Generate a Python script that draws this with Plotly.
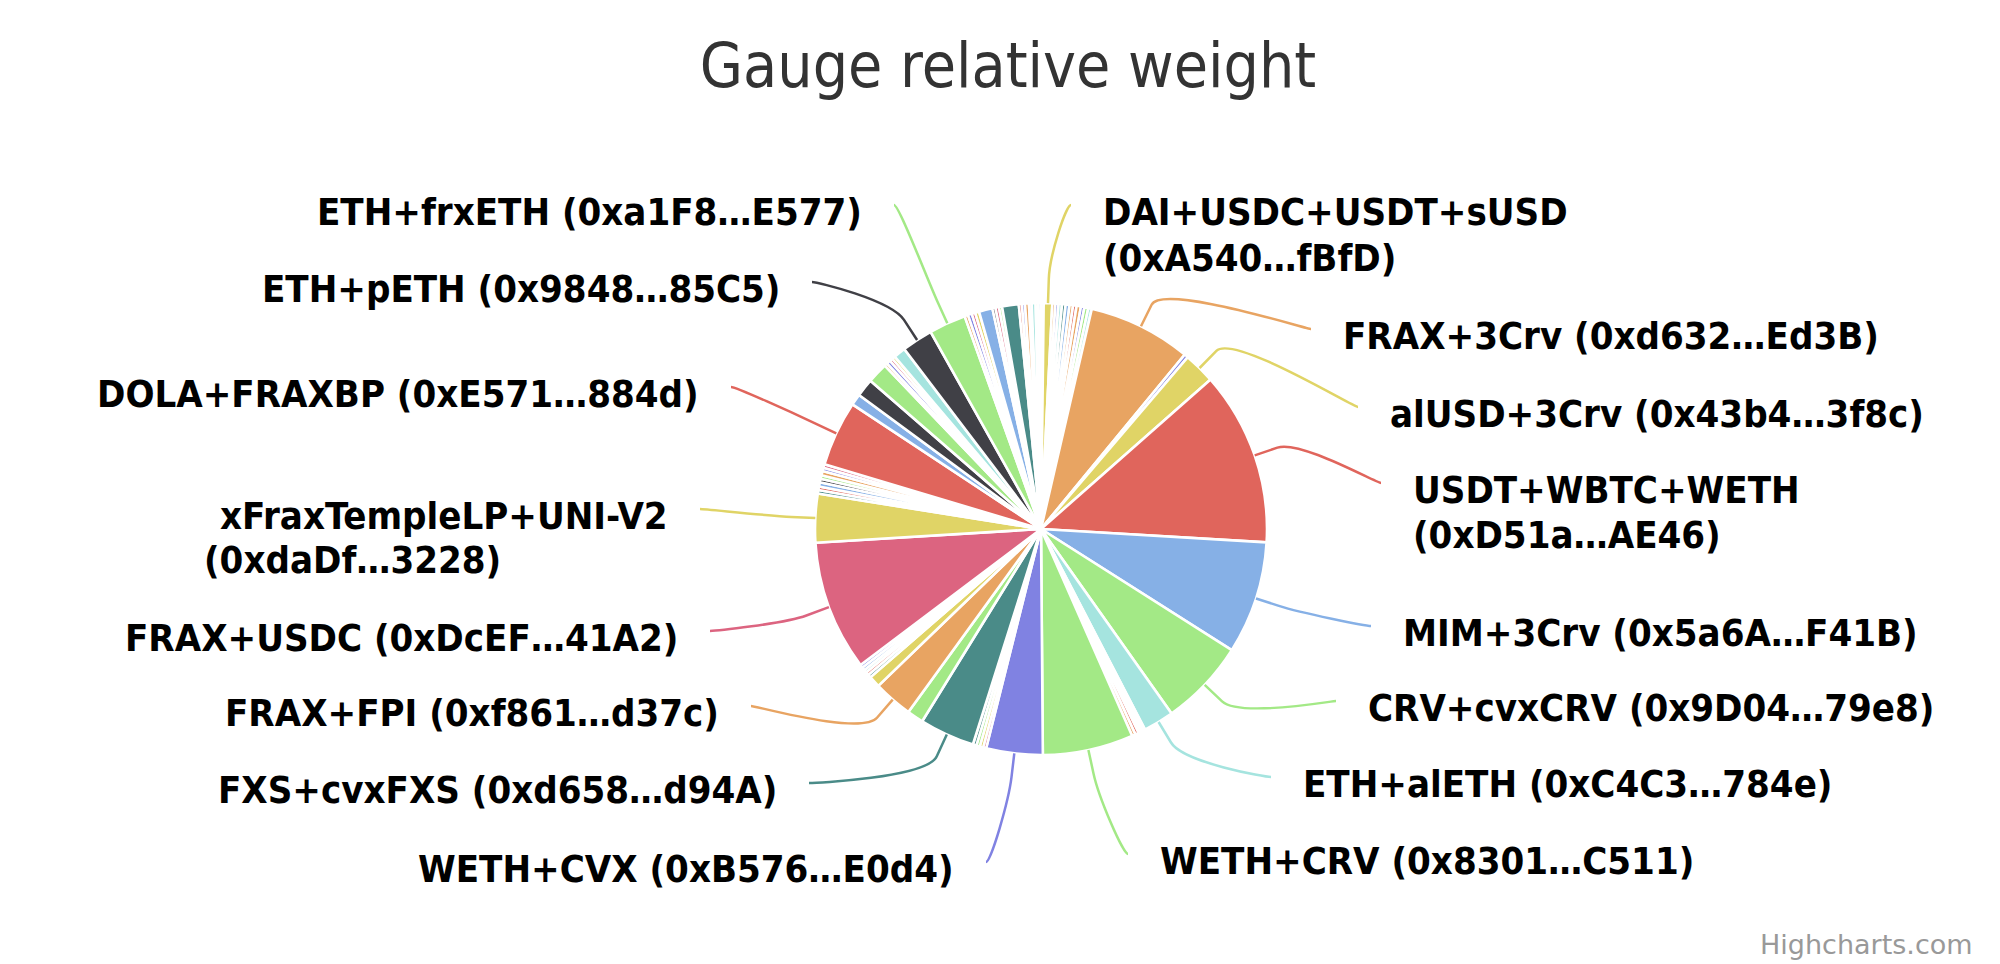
import math
import plotly.graph_objects as go

W, H = 2000, 964
CX, CY, R = 1033, 521, 226          # pie centre and radius in page pixels

FONT = "DejaVu Sans Condensed, DejaVu Sans, sans-serif"

BLUE, DARK, GREEN, ORANGE, PURPLE = "#86b0e6", "#404046", "#a3e986", "#e8a462", "#8082e2"
PINK, YELLOW, TEAL, RED, CYAN = "#dc6480", "#e0d466", "#4a8b88", "#e0655c", "#a5e4df"

# ---- data: gauges clockwise from 12 o'clock ("" = gauge too small to carry a label)
gauge_names = [
    "", "DAI+USDC+USDT+sUSD (0xA540…fBfD)",
    "", "", "", "", "", "", "", "", "", "", "",
    "FRAX+3Crv (0xd632…Ed3B)", "", "alUSD+3Crv (0x43b4…3f8c)",
    "USDT+WBTC+WETH (0xD51a…AE46)", "MIM+3Crv (0x5a6A…F41B)", "CRV+cvxCRV (0x9D04…79e8)",
    "ETH+alETH (0xC4C3…784e)", "", "", "", "", "",
    "WETH+CRV (0x8301…C511)", "WETH+CVX (0xB576…E0d4)", "", "", "", "",
    "FXS+cvxFXS (0xd658…d94A)", "", "FRAX+FPI (0xf861…d37c)", "",
    "", "", "", "", "",
    "FRAX+USDC (0xDcEF…41A2)", "xFraxTempleLP+UNI-V2 (0xdaDf…3228)",
    "", "", "", "", "", "", "", "",
    "DOLA+FRAXBP (0xE571…884d)", "", "", "",
    "", "", "", "",
    "", "ETH+pETH (0x9848…85C5)", "ETH+frxETH (0xa1F8…E577)",
    "", "", "", "",
    "", "", "", "", "",
    "", "", "", "", "", "", "",
]
gauge_weights = [
    0.19, 0.61,
    0.22, 0.22, 0.25, 0.25, 0.28, 0.25, 0.25, 0.31, 0.25, 0.28, 0.25,
    7.36, 0.28, 2.25,
    12.44, 8.06, 6.19,
    2.19, 0.17, 0.17, 0.17, 0.25, 0.25,
    6.47, 4.03, 0.22, 0.25, 0.25, 0.25,
    3.94, 1.17, 2.81, 0.83,
    0.22, 0.22, 0.22, 0.22, 0.22,
    9.31, 3.47,
    0.25, 0.25, 0.31, 0.25, 0.25, 0.31, 0.25, 0.25,
    4.67, 0.81, 1.28, 1.47,
    0.22, 0.28, 0.22, 0.22,
    0.86, 2.22, 2.64,
    0.25, 0.28, 0.25, 0.28,
    0.97, 0.22, 0.25, 0.22, 1.19,
    0.22, 0.22, 0.28, 0.19, 0.28, 0.19, 0.19,
]

# ---- styles
gauge_colors = [
    CYAN, YELLOW,
    ORANGE, PURPLE, CYAN, TEAL, BLUE, ORANGE, RED, ORANGE, PURPLE, GREEN, CYAN,
    ORANGE, PURPLE, YELLOW,
    RED, BLUE, GREEN,
    CYAN, BLUE, DARK, GREEN, RED, ORANGE,
    GREEN, PURPLE, PINK, YELLOW, GREEN, TEAL,
    TEAL, GREEN, ORANGE, YELLOW,
    TEAL, RED, CYAN, BLUE, PURPLE,
    PINK, YELLOW,
    TEAL, RED, BLUE, DARK, GREEN, ORANGE, PURPLE, PINK,
    RED, BLUE, DARK, GREEN,
    ORANGE, PURPLE, PINK, YELLOW,
    CYAN, DARK, GREEN,
    ORANGE, PURPLE, PINK, YELLOW,
    BLUE, DARK, PINK, GREEN, TEAL,
    RED, PURPLE, ORANGE, PINK, CYAN, YELLOW, BLUE,
]

# label placement: side, x of text edge, y of each line, x of 2nd line start (left side)
label_layout = {
    "DAI+USDC+USDT+sUSD (0xA540…fBfD)": ("right", 1097, [204, 250], None),
    "FRAX+3Crv (0xd632…Ed3B)": ("right", 1337, [328], None),
    "alUSD+3Crv (0x43b4…3f8c)": ("right", 1384, [406], None),
    "USDT+WBTC+WETH (0xD51a…AE46)": ("right", 1407, [482, 527], None),
    "MIM+3Crv (0x5a6A…F41B)": ("right", 1397, [625], None),
    "CRV+cvxCRV (0x9D04…79e8)": ("right", 1362, [700], None),
    "ETH+alETH (0xC4C3…784e)": ("right", 1297, [776], None),
    "WETH+CRV (0x8301…C511)": ("right", 1154, [853], None),
    "ETH+frxETH (0xa1F8…E577)": ("left", 852, [204], None),
    "ETH+pETH (0x9848…85C5)": ("left", 770, [281], None),
    "DOLA+FRAXBP (0xE571…884d)": ("left", 689, [386], None),
    "xFraxTempleLP+UNI-V2 (0xdaDf…3228)": ("left", 658, [508, 552], 198),
    "FRAX+USDC (0xDcEF…41A2)": ("left", 668, [630], None),
    "FRAX+FPI (0xf861…d37c)": ("left", 709, [705], None),
    "FXS+cvxFXS (0xd658…d94A)": ("left", 767, [782], None),
    "WETH+CVX (0xB576…E0d4)": ("left", 944, [861], None),
}
TEXT_PAD = 4   # annotation box padding compensation

fig = go.Figure()
fig.add_trace(go.Pie(
    values=gauge_weights,
    text=gauge_names,
    sort=False,
    direction="clockwise",
    rotation=0,
    textinfo="none",
    hovertemplate="%{text}<br>%{percent}<extra></extra>",
    marker=dict(colors=gauge_colors, line=dict(color="#ffffff", width=2.6)),
    domain=dict(x=[(CX - R) / W, (CX + R) / W], y=[1 - (CY + R) / H, 1 - (CY - R) / H]),
    showlegend=False,
))

# mid-angle of every labelled slice (clockwise from 12 o'clock)
total = sum(gauge_weights)
mid_angle = {}
acc = 0.0
for name, w in zip(gauge_names, gauge_weights):
    if name:
        mid_angle[name] = (acc + w / 2) / total * 2 * math.pi
    acc += w

shapes, annotations = [], []
for name, (side, x, ys, x2) in label_layout.items():
    i = gauge_names.index(name)
    col = gauge_colors[i]
    th = mid_angle[name]
    sx, sy = math.sin(th), -math.cos(th)
    rim = (CX + R * sx, CY + R * sy)
    brk = (CX + (R + 24) * sx, CY + (R + 24) * sy)
    c1 = (2 * brk[0] - rim[0], 2 * brk[1] - rim[1])
    s = 1 if side == "right" else -1
    end = (x - 34 * s, ys[0] - 7)
    c2 = (end[0] - 5 * s, end[1])
    path = (f"M {rim[0]:.1f},{rim[1]:.1f} L {brk[0]:.1f},{brk[1]:.1f} "
            f"C {c1[0]:.1f},{c1[1]:.1f} {c2[0]:.1f},{c2[1]:.1f} {end[0]:.1f},{end[1]:.1f}")
    shapes.append(dict(type="path", path=path, xref="x", yref="y",
                       line=dict(color=col, width=2.5), layer="above"))
    lines = [name] if len(ys) == 1 else [name.split(" (")[0], "(" + name.split(" (")[1]]
    for k, (txt, y) in enumerate(zip(lines, ys)):
        if side == "right":
            ax, anchor = x - TEXT_PAD, "left"
        elif k == 0:
            ax, anchor = x + TEXT_PAD, "right"
        else:
            ax, anchor = x2 - TEXT_PAD, "left"
        annotations.append(dict(x=ax, y=y, xref="x", yref="y", text=f"<b>{txt}</b>",
                                showarrow=False, xanchor=anchor, yanchor="middle",
                                font=dict(family=FONT, size=38, color="#000000")))

annotations.append(dict(x=1967, y=936, xref="x", yref="y", text="Highcharts.com",
                        showarrow=False, xanchor="right", yanchor="middle",
                        font=dict(family="DejaVu Sans, sans-serif", size=27, color="#999999")))

fig.update_layout(
    width=W, height=H,
    margin=dict(l=0, r=0, t=0, b=0),
    paper_bgcolor="#ffffff", plot_bgcolor="rgba(0,0,0,0)",
    title=dict(text="Gauge relative weight", x=0.5, xanchor="center",
               y=1 - 57 / H, yanchor="middle", yref="container",
               font=dict(family=FONT, size=62, color="#333333")),
    xaxis=dict(range=[0, W], visible=False, fixedrange=True, domain=[0, 1]),
    yaxis=dict(range=[H, 0], visible=False, fixedrange=True, domain=[0, 1]),
    shapes=shapes,
    annotations=annotations,
)

fig.write_html("out.html")
